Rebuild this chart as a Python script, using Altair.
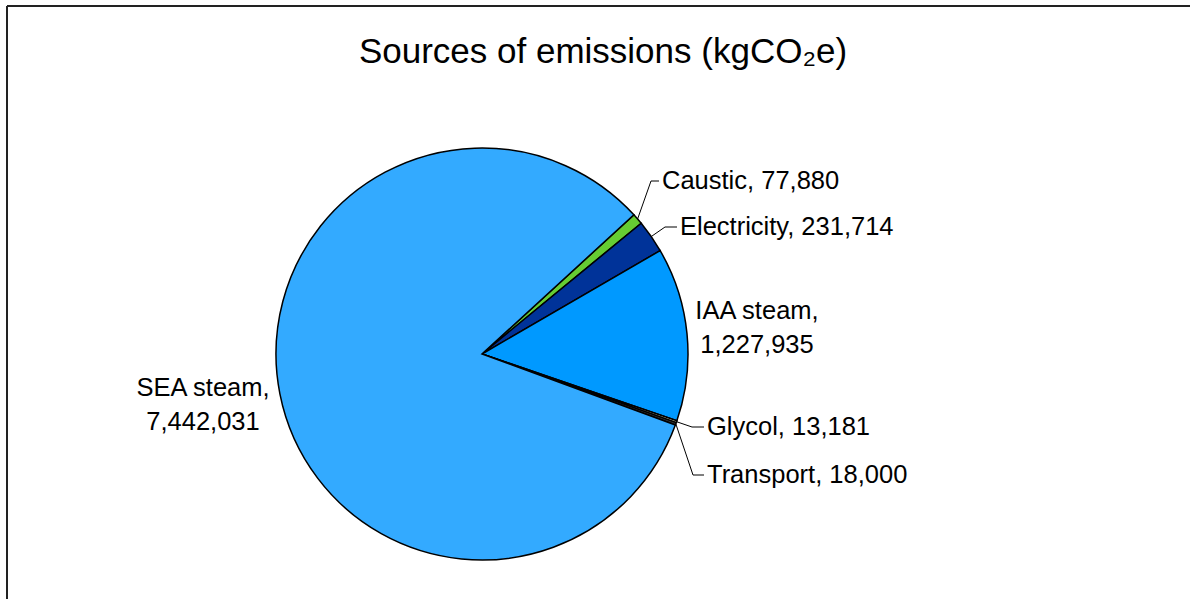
import math
import altair as alt
import pandas as pd

# ---- data ----
categories = ["Caustic", "Electricity", "IAA steam", "Glycol", "Transport", "SEA steam"]
values = [77880, 231714, 1227935, 13181, 18000, 7442031]
label_lines = [
    ["Caustic, 77,880"],
    ["Electricity, 231,714"],
    ["IAA steam,", "1,227,935"],
    ["Glycol, 13,181"],
    ["Transport, 18,000"],
    ["SEA steam,", "7,442,031"],
]
colors = ["#66cc33", "#003399", "#0099ff", "#ffffcc", "#333333", "#33aaff"]

# ---- layout ----
W, H = 1190, 599
CX, CY, R = 482, 354, 206
START = math.radians(47.5)
FONT = "Liberation Sans"
LABEL_SIZE = 25.5
# label placement: (text x, text y of first line, align, elbow point or None, line end x)
label_layout = {
    "Caustic": (662, 181, "left", (651, 181), 659),
    "Electricity": (680, 227, "left", (665, 227), 677),
    "IAA steam": (757, 311, "center", None, None),
    "Glycol": (707, 427, "left", (692, 427), 704),
    "Transport": (707, 475, "left", (693, 475), 704),
    "SEA steam": (203, 388, "center", None, None),
}
LINE_GAP = 34

total = sum(values)
pie = pd.DataFrame({"category": categories, "value": values, "order": range(len(values))})

# anchor points at slice mid-angles
cum = 0.0
text_rows, line_rows = [], []
for cat, v, lines in zip(categories, values, label_lines):
    mid = START + 2 * math.pi * (cum + v / 2) / total
    cum += v
    ax = CX + R * math.sin(mid)
    ay = CY - R * math.cos(mid)
    tx, ty, align, elbow, endx = label_layout[cat]
    for i, t in enumerate(lines):
        text_rows.append({"category": cat, "text": t, "x": tx, "y": ty + i * LINE_GAP, "align": align})
    if elbow is not None:
        pts = [(ax, ay), elbow, (endx, elbow[1])]
        for k, (px, py) in enumerate(pts):
            line_rows.append({"category": cat, "k": k, "x": px, "y": py})

texts = pd.DataFrame(text_rows)
leaders = pd.DataFrame(line_rows)

xs = alt.Scale(domain=[0, W])
ys = alt.Scale(domain=[0, H], reverse=True)

arcs = alt.Chart(pie).mark_arc(outerRadius=R, stroke="#000000", strokeWidth=1.5).encode(
    theta=alt.Theta("value:Q", stack=True, scale=alt.Scale(range=[START, START + 2 * math.pi])),
    order=alt.Order("order:Q"),
    color=alt.Color("category:N", scale=alt.Scale(domain=categories, range=colors), legend=None),
    x=alt.X(datum=CX, type="quantitative", scale=xs, axis=None),
    y=alt.Y(datum=CY, type="quantitative", scale=ys, axis=None),
)

leader_lines = alt.Chart(leaders).mark_line(color="#000000", strokeWidth=1).encode(
    x=alt.X("x:Q", scale=xs, axis=None),
    y=alt.Y("y:Q", scale=ys, axis=None),
    detail="category:N",
    order="k:Q",
)

def text_layer(align):
    return alt.Chart(texts[texts["align"] == align]).mark_text(
        font=FONT, fontSize=LABEL_SIZE, align=align, baseline="middle", color="#000000"
    ).encode(
        x=alt.X("x:Q", scale=xs, axis=None),
        y=alt.Y("y:Q", scale=ys, axis=None),
        text="text:N",
    )

title = alt.Chart(pd.DataFrame({"t": ["Sources of emissions (kgCO\u2082e)"]})).mark_text(
    font=FONT, fontSize=35, align="center", baseline="middle", color="#000000"
).encode(x=alt.value(603), y=alt.value(52), text="t:N")

border_left = alt.Chart(pd.DataFrame({"a": [0]})).mark_rule(color="#222222", strokeWidth=2).encode(
    x=alt.value(7), y=alt.value(6), y2=alt.value(H)
)
border_top = alt.Chart(pd.DataFrame({"a": [0]})).mark_rule(color="#222222", strokeWidth=2).encode(
    x=alt.value(7), x2=alt.value(W), y=alt.value(6)
)

chart = alt.layer(
    arcs, leader_lines, text_layer("left"), text_layer("center"), title, border_left, border_top
).properties(
    width=W, height=H, autosize=alt.AutoSizeParams(type="none"), padding=0, background="#ffffff"
).configure_view(stroke=None)

chart.save("out.html", embed_options={"renderer": "svg", "actions": False})
